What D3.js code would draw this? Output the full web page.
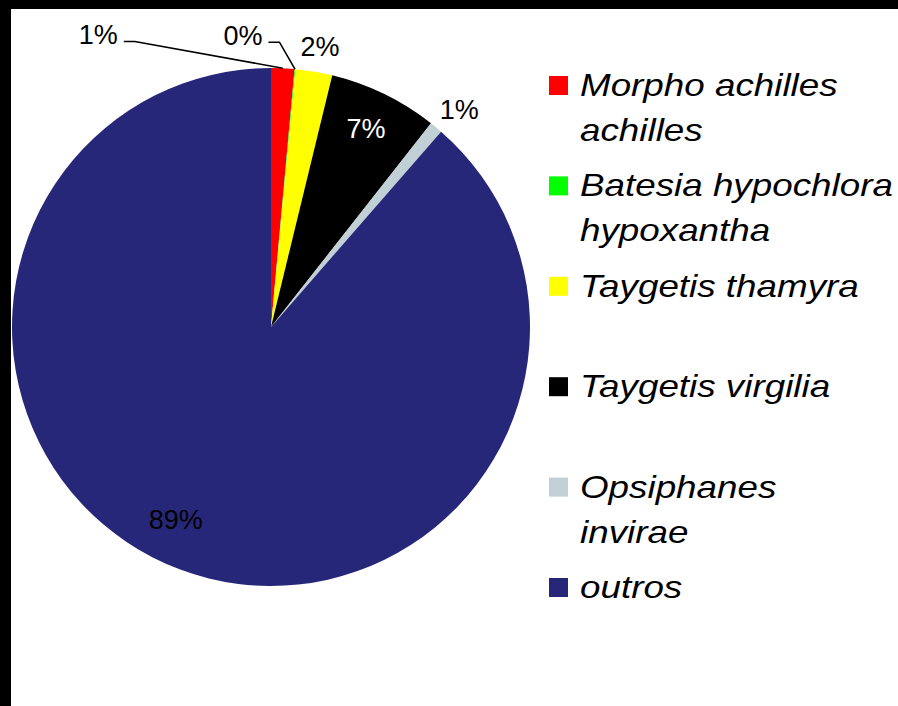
<!DOCTYPE html>
<html>
<head>
<meta charset="utf-8">
<script src="https://cdn.jsdelivr.net/npm/d3@7"></script>
<style>
  body { margin: 0; background: #fff; }
  svg { display: block; }
  text { font-family: "Liberation Sans", Arial, sans-serif; }
</style>
</head>
<body>
<div class="chart"></div>
<script>
// species shares (percent of individuals)
const species = ["Morpho achilles achilles", "Batesia hypochlora hypoxantha", "Taygetis thamyra",
                 "Taygetis virgilia", "Opsiphanes invirae", "outros"];
const legendLines = [["Morpho achilles", "achilles"], ["Batesia hypochlora", "hypoxantha"], ["Taygetis thamyra"],
                     ["Taygetis virgilia"], ["Opsiphanes", "invirae"], ["outros"]];
const shares = [1.45, 0.05, 2.3, 6.8, 0.8, 88.6];
const colors = ["#ff0000", "#00ff00", "#ffff00", "#000000", "#c0d0d4", "#27277a"];

const width = 898, height = 706;
const cx = 271, cy = 327, radius = 259;

// label placement: angle (deg, clockwise from top) and distance as a fraction of radius
const labelPlace = [
    {a: -30.6, k: 1.31, leader: true},
    {a: -5.5, k: 1.13, leader: true},
    {a: 9.9, k: 1.10},
    {a: 25.6, k: 0.85, fill: "#fff"},
    {a: 40.9, k: 1.11},
    {a: 206.3, k: 0.83}
];

const svg = d3.select(".chart").append("svg")
    .attr("width", width)
    .attr("height", height);

// black frame edges of the original screenshot
svg.append("rect").attr("x", 0).attr("y", 0).attr("width", width).attr("height", 9).attr("fill", "#000");
svg.append("rect").attr("x", 0).attr("y", 0).attr("width", 11).attr("height", height).attr("fill", "#000");

const total = d3.sum(shares);
const pie = d3.pie().sort(null).value(d => d)(shares);
const arc = d3.arc().innerRadius(0).outerRadius(radius);

const g = svg.append("g").attr("transform", `translate(${cx},${cy})`);

g.selectAll("path.slice")
    .data(pie)
    .join("path")
    .attr("class", "slice")
    .attr("fill", (d, i) => colors[i])
    .attr("d", arc);

const pct = v => Math.round(v / total * 100) + "%";
const rad = deg => deg * Math.PI / 180;

pie.forEach((d, i) => {
    const p = labelPlace[i];
    const lx = Math.sin(rad(p.a)) * radius * p.k;
    const ly = -Math.cos(rad(p.a)) * radius * p.k;
    const t = g.append("text")
        .attr("x", lx)
        .attr("y", ly + 9.5)
        .attr("text-anchor", "middle")
        .attr("font-size", 27)
        .attr("fill", p.fill || "#000")
        .text(pct(shares[i]));
    if (p.leader) {
        const w = t.node().getComputedTextLength();
        const mid = (d.startAngle + d.endAngle) / 2;
        const ex = Math.sin(mid) * radius, ey = -Math.cos(mid) * radius;
        const sx = lx + w / 2 + 6, sy = ly + 6.5;
        g.append("polyline")
            .attr("points", [[sx, sy], [sx + 11, sy], [ex, ey]].map(q => q.join(",")).join(" "))
            .attr("fill", "none")
            .attr("stroke", "#000")
            .attr("stroke-width", 1.6);
    }
});

// legend
const legend = svg.append("g").attr("transform", "translate(549,96)");
const rowGap = 100.4, lineGap = 45;

const rows = legend.selectAll("g.row")
    .data(species)
    .join("g")
    .attr("class", "row")
    .attr("transform", (d, i) => `translate(0,${i * rowGap})`);

rows.append("rect")
    .attr("x", 0)
    .attr("y", -20)
    .attr("width", 19)
    .attr("height", 19)
    .attr("fill", (d, i) => colors[i]);

rows.each(function(d, i) {
    legendLines[i].forEach((line, j) => {
        d3.select(this).append("text")
            .attr("transform", `translate(31,${j * lineGap}) scale(1.15,1)`)
            .attr("font-size", 32)
            .attr("font-style", "italic")
            .attr("fill", "#000")
            .text(line);
    });
});
</script>
</body>
</html>
